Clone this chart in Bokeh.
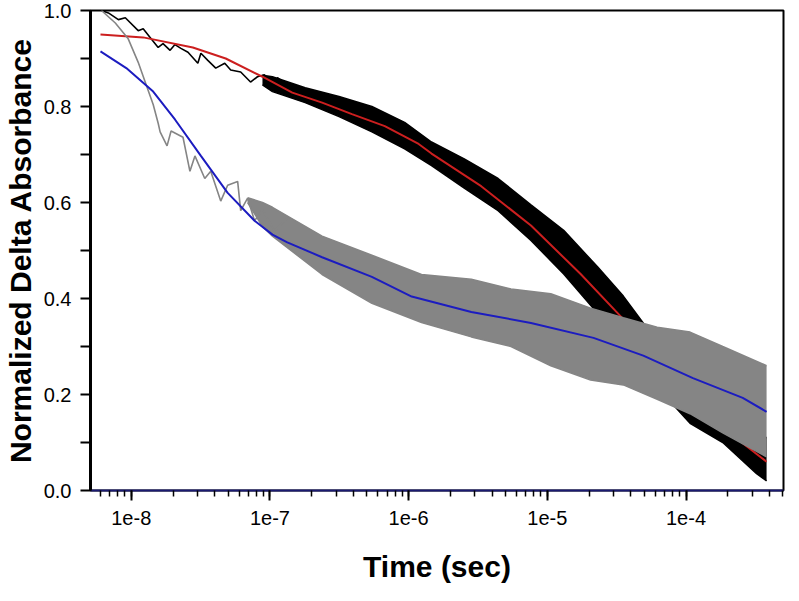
from bokeh.plotting import figure
from bokeh.models import Range1d, FixedTicker, CustomJSTickFormatter, LogTicker
from bokeh.embed import file_html
from bokeh.resources import INLINE

# ---- data (log10 of time in seconds, normalized delta absorbance) ----
# black raw trace, early (thin) part
black_line_logt = [-8.215, -8.165, -8.093, -8.043, -7.950, -7.914, -7.864, -7.806, -7.771, -7.720,
                   -7.685, -7.642, -7.591, -7.520, -7.498, -7.448, -7.391, -7.326, -7.283, -7.211,
                   -7.140, -7.090, -7.039, -6.996, -6.946, -6.875]
black_line_val = [1.000, 0.995, 0.981, 0.985, 0.958, 0.962, 0.944, 0.923, 0.931, 0.917,
                  0.929, 0.921, 0.913, 0.890, 0.911, 0.896, 0.880, 0.890, 0.876, 0.872,
                  0.851, 0.862, 0.866, 0.835, 0.860, 0.845]
# black raw trace, noisy part: envelope
black_band_logt = [-7.054, -6.982, -6.746, -6.502, -6.265, -6.029, -5.835, -5.599, -5.355, -5.118,
                   -4.882, -4.638, -4.452, -4.208, -3.971, -3.735, -3.491, -3.419]
black_band_hi = [0.865, 0.862, 0.839, 0.821, 0.800, 0.767, 0.726, 0.691, 0.650, 0.595,
                 0.542, 0.466, 0.405, 0.310, 0.240, 0.180, 0.120, 0.110]
black_band_lo = [0.845, 0.831, 0.808, 0.779, 0.747, 0.712, 0.677, 0.630, 0.583, 0.521,
                 0.451, 0.369, 0.336, 0.215, 0.140, 0.100, 0.035, 0.020]

# red fit of black trace
red_logt = [-8.222, -7.914, -7.556, -7.319, -7.054, -6.839, -6.624, -6.409, -6.172, -5.928,
            -5.835, -5.477, -5.118, -4.760, -4.459, -4.115, -3.935, -3.735, -3.419]
red_val = [0.950, 0.944, 0.923, 0.900, 0.862, 0.829, 0.808, 0.784, 0.759, 0.722,
           0.702, 0.634, 0.552, 0.451, 0.359, 0.250, 0.190, 0.131, 0.060]

# gray raw trace, early part
gray_line_logt = [-8.215, -8.115, -8.022, -7.950, -7.892, -7.842, -7.806, -7.792, -7.742, -7.713,
                  -7.627, -7.577, -7.541, -7.470, -7.427, -7.355, -7.305, -7.233, -7.211, -7.161,
                  -7.111, -7.054, -6.968, -6.875]
gray_line_val = [1.000, 0.974, 0.941, 0.892, 0.845, 0.804, 0.765, 0.747, 0.718, 0.749,
                 0.736, 0.665, 0.697, 0.650, 0.665, 0.603, 0.636, 0.644, 0.583, 0.609,
                 0.562, 0.585, 0.541, 0.568]
# gray raw trace, noisy part: envelope
gray_band_logt = [-7.161, -7.054, -6.982, -6.624, -6.265, -5.907, -5.548, -5.262, -4.975, -4.688,
                  -4.452, -4.208, -3.971, -3.735, -3.419]
gray_band_hi = [0.61, 0.60, 0.59, 0.53, 0.49, 0.45, 0.44, 0.42, 0.41, 0.38,
                0.36, 0.34, 0.33, 0.30, 0.26]
gray_band_lo = [0.60, 0.55, 0.53, 0.45, 0.39, 0.35, 0.32, 0.30, 0.26, 0.23,
                0.22, 0.19, 0.16, 0.12, 0.07]

# blue fit of gray trace
blue_logt = [-8.222, -8.036, -7.842, -7.685, -7.498, -7.305, -7.111, -6.982, -6.875, -6.624,
             -6.265, -5.978, -5.548, -5.118, -4.667, -4.308, -3.950, -3.591, -3.419]
blue_val = [0.915, 0.880, 0.831, 0.773, 0.697, 0.620, 0.562, 0.533, 0.517, 0.486,
            0.445, 0.404, 0.372, 0.349, 0.318, 0.281, 0.234, 0.193, 0.164]

x_title = "Time (sec)"
y_title = "Normalized Delta Absorbance"
y_ticks = [0.0, 0.2, 0.4, 0.6, 0.8, 1.0]
y_minor_ticks = [0.1, 0.3, 0.5, 0.7, 0.9]


def t(seq):
    return [10 ** v for v in seq]


FONT = "Liberation Sans"

p = figure(width=783, height=585, output_backend="svg", toolbar_location=None,
           x_axis_type="log",
           x_range=Range1d(10 ** -8.294, 10 ** -3.297), y_range=Range1d(0.0, 1.0),
           min_border_left=88, min_border_right=2, min_border_top=10, min_border_bottom=95)
p.frame_width = 693
p.frame_height = 480
p.xgrid.visible = False
p.ygrid.visible = False
p.outline_line_color = "black"
p.outline_line_width = 2
p.background_fill_color = "white"
p.border_fill_color = "white"

xaxis = p.xaxis[0]
xaxis.ticker = LogTicker(num_minor_ticks=10)
xaxis.formatter = CustomJSTickFormatter(code='return "1e" + Math.round(Math.log10(tick));')
xaxis.axis_label = x_title
xaxis.axis_label_text_font = FONT
xaxis.axis_label_text_font_style = "bold"
xaxis.axis_label_text_font_size = "30px"
xaxis.axis_label_text_color = "black"
xaxis.axis_label_standoff = 22
xaxis.major_label_text_font = FONT
xaxis.major_label_text_font_size = "20px"
xaxis.major_label_text_color = "black"
xaxis.major_label_standoff = 10
xaxis.axis_line_color = "#1a1a70"
xaxis.axis_line_width = 2
xaxis.major_tick_line_width = 2
xaxis.major_tick_out = 10
xaxis.major_tick_in = 0
xaxis.minor_tick_out = 6
xaxis.minor_tick_in = 0
xaxis.minor_tick_line_width = 1.5

yaxis = p.yaxis[0]
yaxis.ticker = FixedTicker(ticks=y_ticks, minor_ticks=y_minor_ticks)
yaxis.formatter = CustomJSTickFormatter(code='return tick.toFixed(1);')
yaxis.axis_label = y_title
yaxis.axis_label_text_font = FONT
yaxis.axis_label_text_font_style = "bold"
yaxis.axis_label_text_font_size = "30px"
yaxis.axis_label_text_color = "black"
yaxis.axis_label_standoff = 4
yaxis.major_label_text_font = FONT
yaxis.major_label_text_font_size = "20px"
yaxis.major_label_text_color = "black"
yaxis.major_label_standoff = 9
yaxis.axis_line_width = 3
yaxis.major_tick_line_width = 2
yaxis.major_tick_out = 10
yaxis.major_tick_in = 0
yaxis.minor_tick_out = 10
yaxis.minor_tick_in = 0
yaxis.minor_tick_line_width = 2

BLACK = "#000000"
RED = "#cc1f1f"
GRAY = "#858585"
BLUE = "#1c1cc0"

p.varea(x=t(black_band_logt), y1=black_band_lo, y2=black_band_hi, fill_color=BLACK)
p.line(t(black_band_logt), black_band_hi, line_color=BLACK, line_width=1.5)
p.line(t(black_band_logt), black_band_lo, line_color=BLACK, line_width=1.5)
p.line(t(black_line_logt), black_line_val, line_color=BLACK, line_width=1.6)
p.line(t(red_logt), red_val, line_color=RED, line_width=2)
p.varea(x=t(gray_band_logt), y1=gray_band_lo, y2=gray_band_hi, fill_color=GRAY)
p.line(t(gray_band_logt), gray_band_hi, line_color=GRAY, line_width=1.5)
p.line(t(gray_band_logt), gray_band_lo, line_color=GRAY, line_width=1.5)
p.line(t(gray_line_logt), gray_line_val, line_color=GRAY, line_width=1.6)
p.line(t(blue_logt), blue_val, line_color=BLUE, line_width=2)

open("out.html", "w").write(file_html(p, INLINE))
